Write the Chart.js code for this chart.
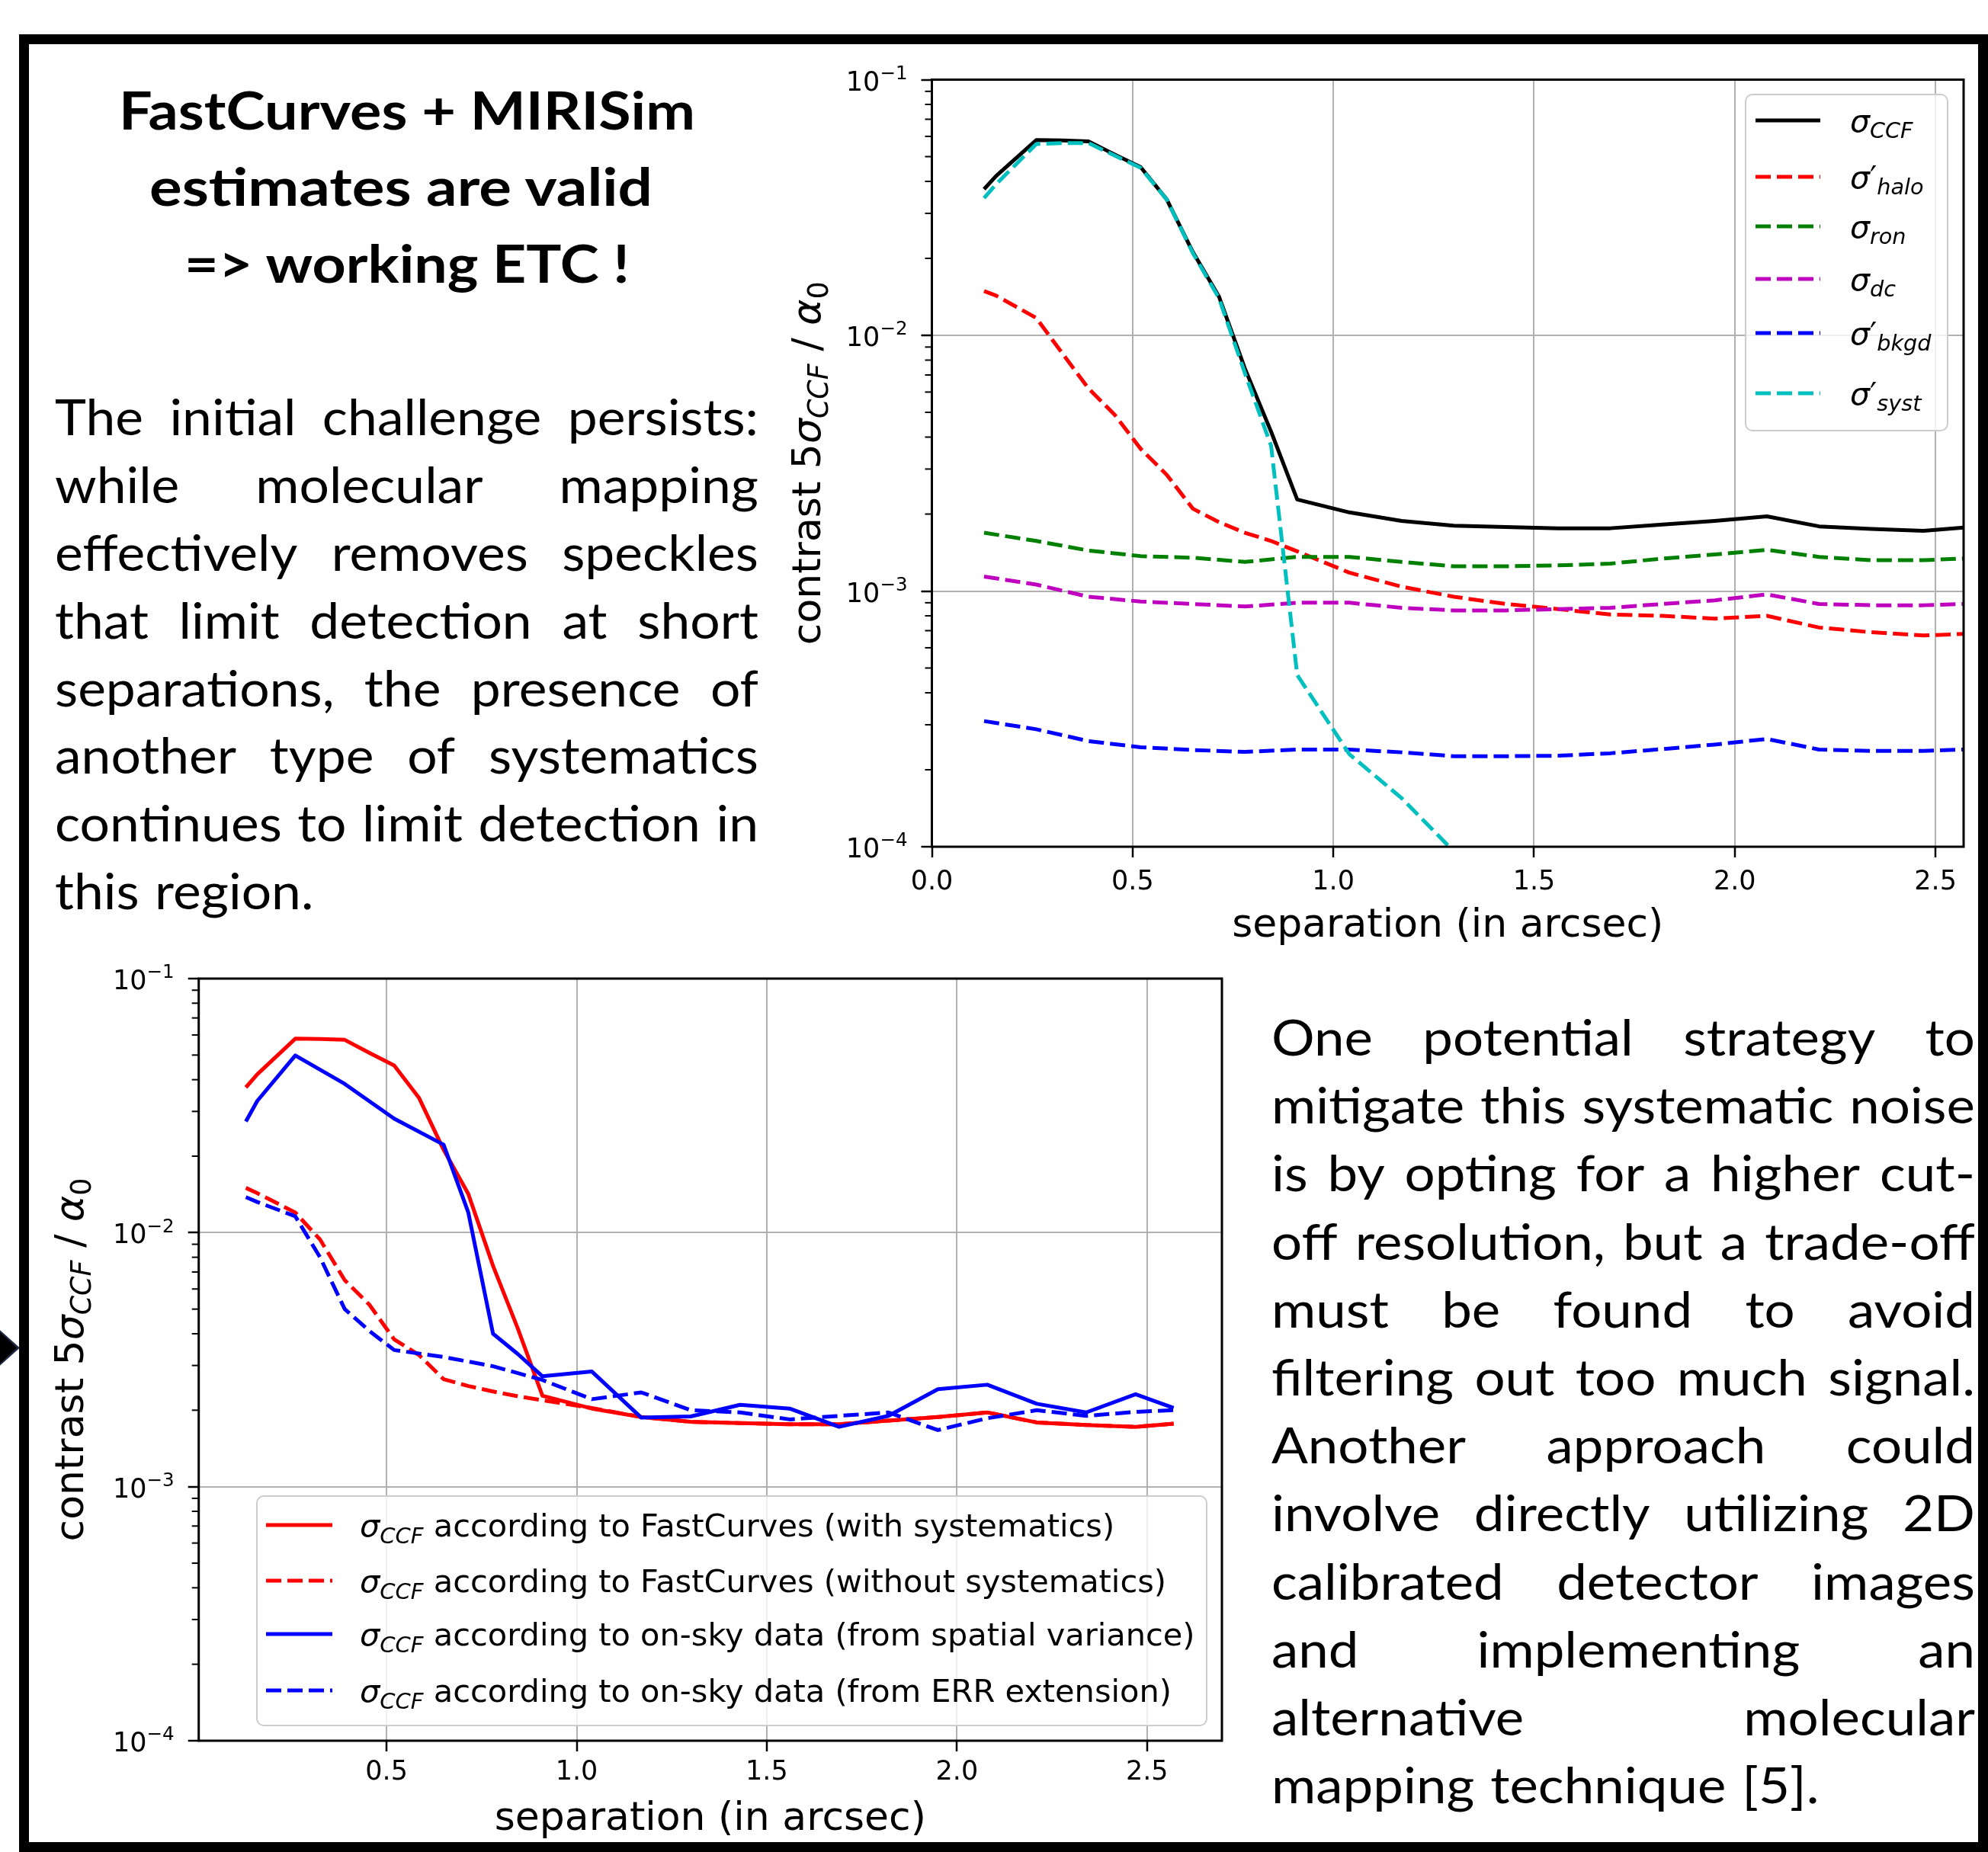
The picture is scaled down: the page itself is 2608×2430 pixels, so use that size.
<!DOCTYPE html>
<html>
<head>
<meta charset="utf-8">
<script src="https://cdn.jsdelivr.net/npm/chart.js@4.4.0/dist/chart.umd.min.js"></script>
<style>
  html, body { margin: 0; padding: 0; background: #fff; }
  body { width: 2608px; height: 2430px; position: relative; overflow: hidden; }
  #arrow { position: absolute; left: -6px; top: 1740px; width: 32px; height: 57px; background: #1f2a44;
           clip-path: polygon(0 0, 100% 50%, 0 100%); }
  #arrow div { position: absolute; left: 0; top: 2px; width: 28px; height: 53px; background: #000;
               clip-path: polygon(0 0, 100% 50%, 0 100%); }
  #frame { position: absolute; left: 25px; top: 45px; width: 2583px; height: 2385px;
           box-sizing: border-box; border: 13px solid #000; }
  canvas { position: absolute; }
  #topChart { left: 1000px; top: 60px; }
  #bottomChart { left: 40px; top: 1240px; }
  #txt { position: absolute; left: 0; top: 0; }
</style>
</head>
<body>
<div id="arrow"><div></div></div>
<div id="frame"></div>
<canvas id="topChart" width="1600" height="1220"></canvas>
<canvas id="bottomChart" width="1600" height="1180"></canvas>
<svg id="txt" width="2608" height="2430" xmlns="http://www.w3.org/2000/svg"></svg>
<script>
// separation grid (arcsec)
const sep = [0.13, 0.16, 0.26, 0.325, 0.39, 0.455, 0.52, 0.585, 0.65, 0.715, 0.78, 0.845, 0.91,
             1.04, 1.17, 1.30, 1.43, 1.56, 1.69, 1.82, 1.95, 2.08, 2.21, 2.34, 2.47, 2.57];

// FastCurves noise terms (contrast 5 sigma / alpha0)
const sigmaCCF  = [0.0373, 0.042, 0.058, 0.0578, 0.0574, 0.051, 0.0455, 0.034, 0.0212, 0.0142, 0.0074, 0.0042, 0.00228,
                   0.00203, 0.00188, 0.0018, 0.00178, 0.00176, 0.00176, 0.00182, 0.00188, 0.00196, 0.00179, 0.00175, 0.00172, 0.00177];
const sigmaHalo = [0.0149, 0.0143, 0.0117, 0.0085, 0.0062, 0.0049, 0.0036, 0.00285, 0.0021, 0.00186, 0.00169, 0.00157, 0.00143,
                   0.00118, 0.00104, 0.00095, 0.00089, 0.00085, 0.00081, 0.0008, 0.00078, 0.0008, 0.00072, 0.00069, 0.00067, 0.00068];
const sigmaRon  = [0.00169, null, 0.00157, null, 0.00144, null, 0.00137, null, 0.00135, null, 0.0013, null, 0.00136,
                   0.00136, 0.0013, 0.00125, 0.00125, 0.00126, 0.00128, 0.00134, 0.00139, 0.00145, 0.00136, 0.00132, 0.00132, 0.00134];
const sigmaDc   = [0.00114, null, 0.00106, null, 0.00095, null, 0.00091, null, 0.00089, null, 0.00087, null, 0.0009,
                   0.0009, 0.00086, 0.00084, 0.00084, 0.00085, 0.00086, 0.00089, 0.00092, 0.00097, 0.00089, 0.00088, 0.00088, 0.00089];
const sigmaBkgd = [0.00031, null, 0.000288, null, 0.000259, null, 0.000245, null, 0.000239, null, 0.000235, null, 0.00024,
                   0.00024, 0.000234, 0.000226, 0.000226, 0.000227, 0.000232, 0.000241, 0.000251, 0.000264, 0.00024, 0.000237, 0.000237, 0.00024];
const sigmaSyst = [0.0344, 0.039, 0.056, 0.0565, 0.0565, 0.0505, 0.0452, 0.034, 0.021, 0.014, 0.0071, 0.0037, 0.00047,
                   0.00023, 0.000155, 0.000096, 0.00006, 0.000038, null, null, null, null, null, null, null, null];

// comparison with on-sky data
const sigmaNoSyst  = [0.015, 0.0143, 0.012, 0.0094, 0.0065, 0.0052, 0.0038, 0.0033, 0.00265, 0.00249, 0.00237, 0.00227, 0.00219,
                      0.00204, 0.00188, 0.0018, 0.00178, 0.00176, 0.00176, 0.00182, 0.00188, 0.00196, 0.00179, 0.00175, 0.00172, 0.00177];
const onSkySpatial = [0.0274, 0.033, 0.0498, null, 0.0385, null, 0.0281, null, 0.0222, 0.012, 0.004, 0.00333, 0.00272,
                      0.00284, 0.00187, 0.00189, 0.0021, 0.00203, 0.00172, 0.0019, 0.00242, 0.00252, 0.00212, 0.00196, 0.00231, 0.00204];
const onSkyErr     = [0.0138, 0.0132, 0.0116, 0.008, 0.005, 0.0041, 0.00345, null, 0.00324, null, 0.00298, null, 0.00263,
                      0.00221, 0.00235, 0.002, 0.00196, 0.00184, 0.0019, 0.00196, 0.00167, 0.00186, 0.002, 0.0019, 0.00197, 0.002];

const xTicksTop = [0, 0.5, 1, 1.5, 2, 2.5];
const xTicksBottom = [0.5, 1, 1.5, 2, 2.5];
const yTicks = [1e-4, 1e-3, 1e-2, 1e-1];
const yTickExp = ['\u22124', '\u22123', '\u22122', '\u22121'];

const xTitle = 'separation (in arcsec)';
const yTitle = [['contrast 5', 'n'], ['\u03C3', 'i'], ['CCF', 'subi'], [' / ', 'n'], ['\u03B1', 'i'], ['0', 'sub']];

const topLabels = [
  [['\u03C3', 'i'], ['CCF', 'subi']],
  [['\u03C3', 'i'], ['\u2032', 'n'], ['halo', 'subi']],
  [['\u03C3', 'i'], ['ron', 'subi']],
  [['\u03C3', 'i'], ['dc', 'subi']],
  [['\u03C3', 'i'], ['\u2032', 'n'], ['bkgd', 'subi']],
  [['\u03C3', 'i'], ['\u2032', 'n'], ['syst', 'subi']]
];
const bottomLabels = [
  [['\u03C3', 'i'], ['CCF', 'subi'], [' according to FastCurves (with systematics)', 'n']],
  [['\u03C3', 'i'], ['CCF', 'subi'], [' according to FastCurves (without systematics)', 'n']],
  [['\u03C3', 'i'], ['CCF', 'subi'], [' according to on-sky data (from spatial variance)', 'n']],
  [['\u03C3', 'i'], ['CCF', 'subi'], [' according to on-sky data (from ERR extension)', 'n']]
];

const titleLines = ['FastCurves + MIRISim', 'estimates are valid', '=> working ETC !'];
const leftLines = [
  'The initial challenge persists:', 'while molecular mapping', 'effectively removes speckles',
  'that limit detection at short', 'separations, the presence of', 'another type of systematics',
  'continues to limit detection in', 'this region.'
];
const rightLines = [
  'One potential strategy to', 'mitigate this systematic noise', 'is by opting for a higher cut-',
  'off resolution, but a trade-off', 'must be found to avoid', 'filtering out too much signal.',
  'Another approach could', 'involve directly utilizing 2D', 'calibrated detector images',
  'and implementing an', 'alternative molecular', 'mapping technique [5].'
];

const MPL = { k: '#000000', r: '#ff0000', g: '#008000', m: '#bf00bf', b: '#0000ff', c: '#00bfbf' };
const DASH = [20, 8];

function series(values, label, color, dashed, order) {
  return {
    label: label,
    data: sep.map((x, i) => ({ x: x, y: values[i] })),
    borderColor: color,
    borderWidth: 5,
    borderDash: dashed ? DASH : [],
    borderCapStyle: 'butt',
    borderJoinStyle: 'round',
    pointRadius: 0,
    fill: false,
    tension: 0,
    spanGaps: true,
    order: order
  };
}

// draw a mathtext-like label made of runs
function drawRuns(ctx, runs, x, y, size, align) {
  const pieces = runs.map(([t, st]) => {
    const small = st === 'sub' || st === 'subi' || st === 'sup';
    const fs = small ? size * 0.7 : size;
    const italic = st === 'i' || st === 'subi';
    const font = (italic ? 'italic ' : '') + fs + 'px "DejaVu Sans"';
    ctx.font = font;
    const dy = st === 'sup' ? -size * 0.42 : (small ? size * 0.2 : 0);
    return { t: t, font: font, w: ctx.measureText(t).width, dy: dy };
  });
  const total = pieces.reduce((s, p) => s + p.w, 0);
  let cx = align === 'center' ? x - total / 2 : (align === 'right' ? x - total : x);
  ctx.textAlign = 'left';
  ctx.textBaseline = 'alphabetic';
  pieces.forEach(p => {
    ctx.font = p.font;
    ctx.fillText(p.t, cx, y + p.dy);
    cx += p.w;
  });
}

const decor = {
  id: 'decor',
  afterDatasetsDraw(chart, args, o) {
    const ctx = chart.ctx;
    const a = chart.chartArea;
    const ys = chart.scales.y;
    ctx.save();
    // minor log ticks
    ctx.strokeStyle = '#000';
    ctx.lineWidth = 2;
    for (let d = -4; d < -1; d++) {
      for (let m = 2; m < 10; m++) {
        const py = ys.getPixelForValue(m * Math.pow(10, d));
        ctx.beginPath();
        ctx.moveTo(a.left - 9, py);
        ctx.lineTo(a.left, py);
        ctx.stroke();
      }
    }
    // spines
    ctx.lineWidth = 3;
    ctx.strokeRect(a.left, a.top, a.right - a.left, a.bottom - a.top);

    // y tick labels as 10^n
    ctx.fillStyle = '#000';
    yTicks.forEach((v, i) => {
      const py = ys.getPixelForValue(v);
      drawRuns(ctx, [['10', 'n'], [yTickExp[i], 'sup']], a.left - 32, py + 14, o.tickSize, 'right');
    });

    // legend
    const L = o.legend;
    const bx = a.right - L.right - L.w;
    const by = L.top != null ? a.top + L.top : a.bottom - L.bottom - L.h;
    ctx.beginPath();
    ctx.roundRect(bx, by, L.w, L.h, 9);
    ctx.fillStyle = 'rgba(255,255,255,0.8)';
    ctx.fill();
    ctx.strokeStyle = '#cccccc';
    ctx.lineWidth = 2;
    ctx.stroke();
    chart.data.datasets.forEach((ds, i) => {
      const ry = by + L.rows[i];
      ctx.strokeStyle = ds.borderColor;
      ctx.lineWidth = ds.borderWidth;
      ctx.lineCap = 'butt';
      ctx.setLineDash(ds.borderDash);
      ctx.beginPath();
      ctx.moveTo(bx + L.hx0, ry);
      ctx.lineTo(bx + L.hx1, ry);
      ctx.stroke();
      ctx.setLineDash([]);
      ctx.fillStyle = '#000';
      drawRuns(ctx, L.labels[i], bx + L.tx, ry + L.size * 0.37, L.size, 'left');
    });

    // axis titles
    ctx.fillStyle = '#000';
    drawRuns(ctx, [[xTitle, 'n']], (a.left + a.right) / 2, a.bottom + o.xTitleOff, o.titleSize, 'center');
    ctx.translate(a.left - o.yTitleOff, (a.top + a.bottom) / 2);
    ctx.rotate(-Math.PI / 2);
    drawRuns(ctx, yTitle, 0, 0, o.titleSize, 'center');
    ctx.restore();
  }
};

function axes(xmin, xmax, xt, yw, xh, tickPad) {
  const grid = { color: '#b0b0b0', lineWidth: 2, tickColor: '#000', tickLength: 14, tickWidth: 2.5 };
  return {
    x: {
      type: 'linear', min: xmin, max: xmax,
      afterBuildTicks: s => { s.ticks = xt.map(v => ({ value: v })); },
      afterFit: s => { s.height = xh; },
      ticks: { callback: v => v.toFixed(1), font: { family: 'DejaVu Sans', size: 35 }, color: '#000',
               padding: tickPad, maxRotation: 0, autoSkip: false },
      grid: grid,
      border: { display: false }
    },
    y: {
      type: 'logarithmic', min: 1e-4, max: 1e-1,
      afterBuildTicks: s => { s.ticks = yTicks.map(v => ({ value: v })); },
      afterFit: s => { s.width = yw; },
      ticks: { display: false },
      grid: grid,
      border: { display: false }
    }
  };
}

new Chart(document.getElementById('topChart'), {
  type: 'line',
  data: {
    datasets: [
      series(sigmaCCF, 'sigma CCF', MPL.k, false, 10),
      series(sigmaHalo, 'sigma halo', MPL.r, true, 9),
      series(sigmaRon, 'sigma ron', MPL.g, true, 8),
      series(sigmaDc, 'sigma dc', MPL.m, true, 7),
      series(sigmaBkgd, 'sigma bkgd', MPL.b, true, 6),
      series(sigmaSyst, 'sigma syst', MPL.c, true, 5)
    ]
  },
  options: {
    responsive: false,
    animation: false,
    layout: { padding: { left: 0, top: 44.5, right: 24, bottom: 0 } },
    scales: axes(0, 2.57, xTicksTop, 222.5, 169, 12),
    plugins: {
      legend: { display: false },
      tooltip: { enabled: false },
      decor: {
        titleSize: 52, xTitleOff: 118, yTitleOff: 147, tickSize: 35,
        legend: { right: 21, top: 19.5, w: 265, h: 441, rows: [34, 108, 173, 242, 313, 392],
                  hx0: 13, hx1: 98, tx: 137, size: 41, labels: topLabels }
      }
    }
  },
  plugins: [decor]
});

new Chart(document.getElementById('bottomChart'), {
  type: 'line',
  data: {
    datasets: [
      series(sigmaCCF, 'FastCurves with systematics', MPL.r, false, 10),
      series(sigmaNoSyst, 'FastCurves without systematics', MPL.r, true, 9),
      series(onSkySpatial, 'on-sky spatial variance', MPL.b, false, 8),
      series(onSkyErr, 'on-sky ERR extension', MPL.b, true, 7)
    ]
  },
  options: {
    responsive: false,
    animation: false,
    layout: { padding: { left: 0, top: 44, right: 37, bottom: 0 } },
    scales: axes(0.006, 2.697, xTicksBottom, 220.7, 136, 7),
    plugins: {
      legend: { display: false },
      tooltip: { enabled: false },
      decor: {
        titleSize: 52, xTitleOff: 117, yTitleOff: 152, tickSize: 35,
        legend: { right: 20, bottom: 20, w: 1246, h: 301, rows: [38, 111, 181, 255],
                  hx0: 12, hx1: 99, tx: 135, size: 41.5, labels: bottomLabels }
      }
    }
  },
  plugins: [decor]
});

// slide text
const NS = 'http://www.w3.org/2000/svg';
const svg = document.getElementById('txt');
const measure = document.createElement('canvas').getContext('2d');

function svgText(parent, str, attrs) {
  const t = document.createElementNS(NS, 'text');
  t.textContent = str;
  Object.keys(attrs).forEach(k => t.setAttribute(k, attrs[k]));
  parent.appendChild(t);
  return t;
}

const titleX = [534, 526, 534];
const titleY = [170, 270, 371];
const titleW = [756, 660, 584];
titleLines.forEach((line, i) => {
  svgText(svg, line, {
    x: titleX[i], y: titleY[i], 'text-anchor': 'middle', 'font-family': 'Lato', 'font-weight': 700,
    'font-size': 68, textLength: titleW[i], lengthAdjust: 'spacingAndGlyphs', fill: '#000'
  });
});

// justified paragraph: glyphs stretched so the tightest line fills the column
function paragraph(lines, x0, y0, lh, width, size) {
  const g = document.createElementNS(NS, 'g');
  svg.appendChild(g);
  measure.font = size + 'px Lato';
  const space = measure.measureText(' ').width * 1.15;
  const rows = lines.map((line, i) => {
    const words = line.split(' ').map(w => svgText(g, w, { y: y0 + i * lh, 'font-family': 'Lato', 'font-size': size, fill: '#000' }));
    const ws = words.map(t => t.getComputedTextLength());
    return { words: words, ws: ws, sum: ws.reduce((a, b) => a + b, 0) };
  });
  let sx = Infinity;
  rows.slice(0, -1).forEach(r => {
    const nat = r.sum + space * (r.words.length - 1);
    sx = Math.min(sx, width / nat);
  });
  const W = width / sx;
  g.setAttribute('transform', 'translate(' + x0 + ' 0) scale(' + sx + ' 1)');
  rows.forEach((r, i) => {
    const last = i === rows.length - 1;
    const gap = (last || r.words.length < 2) ? space : (W - r.sum) / (r.words.length - 1);
    let x = 0;
    r.words.forEach((t, k) => { t.setAttribute('x', x); x += r.ws[k] + gap; });
  });
}

paragraph(leftLines, 72, 571, 88.9, 923, 65);
paragraph(rightLines, 1668, 1385, 89.2, 923, 65);
</script>
</body>
</html>
